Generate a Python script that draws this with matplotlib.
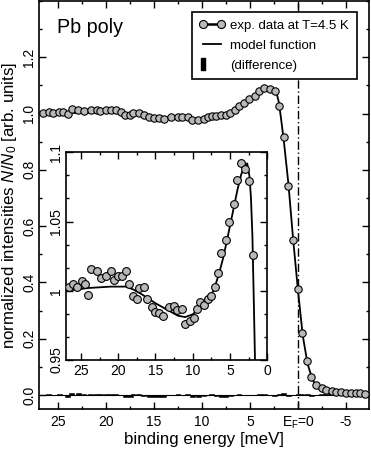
import numpy as np
import matplotlib
matplotlib.use("Agg")
import matplotlib.pyplot as plt
from matplotlib.lines import Line2D
from matplotlib.path import Path
from matplotlib.ticker import MultipleLocator, FixedLocator

plt.rcParams['font.family'] = ['Liberation Sans', 'DejaVu Sans']
plt.rcParams['mathtext.fontset'] = 'custom'
plt.rcParams['mathtext.rm'] = 'Liberation Sans'
plt.rcParams['mathtext.it'] = 'Liberation Sans:italic'

# ---- data ----
energy = [26.6, 26.0, 25.5, 24.9, 24.5, 24.0, 23.6, 22.9, 22.3, 21.6, 21.0, 20.6, 20.0,
          19.5, 19.0, 18.5, 18.0, 17.5, 17.2, 16.6, 16.1, 15.5, 15.0, 14.5, 14.0, 13.2,
          12.5, 12.1, 11.5, 11.0, 10.4, 9.8, 9.4, 9.0, 8.5, 8.0, 7.5, 7.05, 6.6, 6.15,
          5.6, 5.1, 4.5, 4.05, 3.5, 2.95, 2.45, 1.95, 1.5, 1.02, 0.52, 0.0, -0.4, -0.95,
          -1.4, -1.9, -2.45, -2.95, -3.5, -4.0, -4.5, -5.0, -5.5, -6.0, -6.5, -7.0]
intensity = [1.003, 1.005, 1.003, 1.007, 1.005, 0.997, 1.016, 1.014, 1.009, 1.011, 1.014, 1.008, 1.011,
             1.011, 1.014, 1.005, 0.996, 0.994, 1.002, 1.003, 0.994, 0.988, 0.985, 0.984, 0.982, 0.988,
             0.989, 0.986, 0.987, 0.976, 0.978, 0.980, 0.987, 0.992, 0.990, 0.994, 0.996, 1.003, 1.0125, 1.027,
             1.0365, 1.050, 1.063, 1.080, 1.092, 1.088, 1.079, 1.026, 0.918, 0.744, 0.549, 0.375, 0.22, 0.12,
             0.062, 0.037, 0.023, 0.017, 0.013, 0.011, 0.009, 0.008, 0.007, 0.006, 0.006, 0.005]
difference = [0.001, 0.002, 0.001, 0.002, 0.001, -0.006, 0.007, 0.006, 0.002, 0.003, 0.004, 0.002, 0.003,
              0.003, 0.004, 0.001, -0.006, -0.007, 0.002, 0.002, -0.005, -0.008, -0.009, -0.009, -0.008, 0.001,
              0.002, 0.001, 0.002, -0.007, -0.007, -0.005, 0.0, 0.002, -0.005, -0.007, -0.007, -0.003, 0.0, 0.002,
              -0.002, 0.001, -0.001, 0.005, 0.005, -0.002, -0.003, 0.004, 0.006, -0.003, 0.0, 0.004, 0.003, 0.002,
              -0.003, -0.002, 0.002, 0.003, 0.004, 0.004, 0.004, 0.004, 0.004, 0.004, 0.004, 0.004]

model_e = [27.0, 24.0, 21.0, 19.0, 18.0, 17.0, 16.0, 15.0, 14.0, 13.0, 12.0, 11.0, 10.0, 9.0, 8.0,
           7.2, 6.5, 6.0, 5.5, 5.0, 4.5, 4.0, 3.5, 3.0, 2.7, 2.4, 2.2, 2.0, 1.8, 1.65, 1.5, 1.0,
           0.5, 0.0, -0.5, -1.0, -1.5, -2.0, -2.5, -3.0, -4.0, -5.0, -6.0, -7.4]
model_y = [1.000, 1.002, 1.003, 1.003, 1.001, 0.998, 0.9945, 0.991, 0.988, 0.985, 0.982, 0.981, 0.983,
           0.988, 0.994, 1.000, 1.012, 1.022, 1.034, 1.047, 1.060, 1.073, 1.084, 1.091, 1.092, 1.083,
           1.068, 1.040, 0.990, 0.950, 0.910, 0.750, 0.550, 0.370, 0.210, 0.110, 0.055, 0.027, 0.013,
           0.006, 0.002, 0.001, 0.0005, 0.0]

legend_labels = ['exp. data at T=4.5 K', 'model function', '(difference)']
main_xticks = [25, 20, 15, 10, 5, 0, -5]
main_xticklabels = ['25', '20', '15', '10', '5', r'E$_{\mathrm{F}}$=0', '-5']
main_yticks = [0.0, 0.2, 0.4, 0.6, 0.8, 1.0, 1.2]
main_yticklabels = ['0.0', '0.2', '0.4', '0.6', '0.8', '1.0', '1.2']
inset_xticks = [25, 20, 15, 10, 5, 0]
inset_yticks = [0.95, 1.0, 1.05, 1.1]
inset_yticklabels = ['0.95', '1', '1.05', '1.1']

W, H = 371, 451
fig = plt.figure(figsize=(W / 100, H / 100), dpi=100)

def px_axes(l, t, r, b):
    return fig.add_axes([l / W, 1 - b / H, (r - l) / W, (b - t) / H])

mfc = '#b8b8b8'
tick_kw = dict(direction='in', top=True, right=True, width=1.0)

def style(ax, fs):
    for s in ax.spines.values():
        s.set_linewidth(1.2)
    ax.tick_params(which='major', length=5, labelsize=fs, **tick_kw)
    ax.tick_params(which='minor', length=2.5, **tick_kw)

# ---- main axes ----
ax = px_axes(39, 1, 369, 409)
ax.set_xlim(27, -7.4)
ax.set_ylim(-0.05, 1.4)
ax.axvline(0, color='black', lw=1.0, ls=(0, (6, 2, 1, 2)), zorder=1)
ax.axhline(0, color='black', lw=0.8, zorder=2)
ax.bar(energy, difference, width=0.5, color='black', edgecolor='black', linewidth=0.4, zorder=2)
ax.plot(model_e, model_y, color='black', lw=1.3, zorder=3)
ax.plot(energy, intensity, ls='none', marker='o', ms=5.3, mfc=mfc, mec='black', mew=0.8, zorder=4)
ax.xaxis.set_major_locator(FixedLocator(main_xticks))
ax.set_xticklabels(main_xticklabels)
ax.xaxis.set_minor_locator(MultipleLocator(2.5))
ax.yaxis.set_major_locator(FixedLocator(main_yticks))
ax.set_yticklabels(main_yticklabels, rotation=90, va='center')
ax.yaxis.set_minor_locator(MultipleLocator(0.1))
style(ax, 10)
ax.tick_params(axis='x', pad=4)
ax.tick_params(axis='y', pad=2)
ax.set_xlabel('binding energy [meV]', fontsize=12.2, labelpad=1)
ax.set_ylabel(r'normalized intensities $N/N_0$ [arb. units]', fontsize=12.2, labelpad=2)

fig.text(57 / W, 1 - 33 / H, 'Pb poly', fontsize=14.2, va='baseline', ha='left')

rect = Path([(-0.35, -1), (0.35, -1), (0.35, 1), (-0.35, 1), (-0.35, -1)],
            [Path.MOVETO, Path.LINETO, Path.LINETO, Path.LINETO, Path.CLOSEPOLY])
h_data = Line2D([], [], color='black', lw=1.8, marker='o', ms=5.8, mfc=mfc, mec='black', mew=0.8)
h_model = Line2D([], [], color='black', lw=1.3)
h_diff = Line2D([], [], ls='none', marker=rect, ms=8, color='black')
leg = ax.legend([h_data, h_model, h_diff], legend_labels,
                loc='upper right', bbox_to_anchor=(356.5 / W, 1 - 12.3 / H),
                bbox_transform=fig.transFigure, borderaxespad=0, fontsize=9.5,
                numpoints=2, handlelength=2.0, handletextpad=0.4, labelspacing=0.6,
                borderpad=0.55, fancybox=False, framealpha=1, edgecolor='black')
leg.get_frame().set_linewidth(1.2)
leg.legend_handles[2].set_markevery([0])

# ---- inset ----
ai = px_axes(66, 152.3, 267.3, 360)
ai.set_xlim(27, 0)
ai.set_ylim(0.95, 1.1)
ai.plot(model_e, model_y, color='black', lw=1.3, zorder=3)
ai.plot(energy, intensity, ls='none', marker='o', ms=5.6, mfc=mfc, mec='black', mew=0.8, zorder=4)
ai.xaxis.set_major_locator(FixedLocator(inset_xticks))
ai.xaxis.set_minor_locator(MultipleLocator(2.5))
ai.yaxis.set_major_locator(FixedLocator(inset_yticks))
ai.set_yticklabels(inset_yticklabels, rotation=90, va='center')
ai.yaxis.set_minor_locator(MultipleLocator(0.05 / 3))
style(ai, 10)
ai.tick_params(axis='x', pad=3)
ai.tick_params(axis='y', pad=2)

fig.savefig('out.png', dpi=100)
